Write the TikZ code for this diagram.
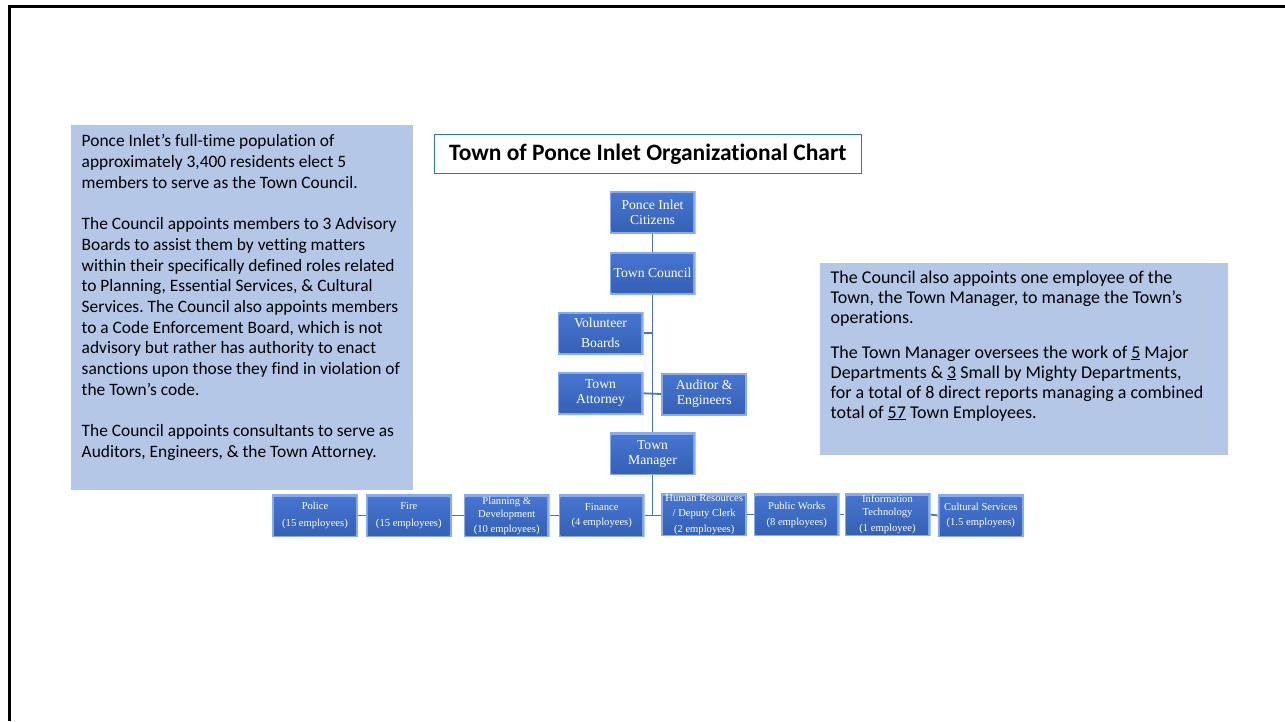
\documentclass[tikz,border=0pt]{standalone}
\usepackage{fontspec}
\setmainfont{Liberation Serif}
\newfontfamily\calib[Ligatures=NoCommon]{Carlito}
\frenchspacing
\definecolor{boxedge}{HTML}{86ACEC}
\definecolor{boxtop}{HTML}{4675D0}
\definecolor{boxbot}{HTML}{3561B6}
\definecolor{linkblue}{HTML}{4A74C2}
\definecolor{noteblue}{HTML}{B4C7E7}
\definecolor{titleline}{HTML}{2E75B6}
\begin{document}
\begin{tikzpicture}[x=1pt,y=-1pt,
  orgbox/.style={minimum width=86pt, minimum height=43pt, inner sep=0pt,
    text=white, align=center,
    path picture={
      \fill[boxedge] (path picture bounding box.north west) rectangle (path picture bounding box.south east);
      \shade[top color=boxtop, bottom color=boxbot]
        ([shift={(2pt,-3pt)}]path picture bounding box.north west) rectangle
        ([shift={(-2.5pt,2pt)}]path picture bounding box.south east);
    }},
  topbox/.style={orgbox, font=\fontsize{13.7}{15}\selectfont},
  deptbox/.style={orgbox, font=\fontsize{10.6}{13}\selectfont},
  link/.style={draw=linkblue, line width=1.8pt},
  notebox/.style={fill=noteblue, inner sep=0pt},
  notetext/.style={anchor=north west, inner sep=0pt, align=left, text=black}
]
\useasboundingbox (0,0) rectangle (1285,721);
\fill[white] (0,0) rectangle (1285,721);

% page frame
\draw[line width=2.5pt] (1285,6.3) -- (9.5,6.3) -- (9.5,721);

% explanatory notes
\node[notebox, minimum width=342.6pt, minimum height=365pt] (leftnote) at (242,307.5) {};
\node[notetext, font=\calib\fontsize{17.4}{20.7}\selectfont] (lefttext) at (81.5,134.5) {%
Ponce Inlet’s full-time population of\\
approximately 3,400 residents elect 5\\
members to serve as the Town Council.\\[20.7pt]
The Council appoints members to 3 Advisory\\
Boards to assist them by vetting matters\\
within their specifically defined roles related\\
to Planning, Essential Services, \& Cultural\\
Services. The Council also appoints members\\
to a Code Enforcement Board, which is not\\
advisory but rather has authority to enact\\
sanctions upon those they find in violation of\\
the Town’s code.\\[20.7pt]
The Council appoints consultants to serve as\\
Auditors, Engineers, \& the Town Attorney.};

\node[notebox, minimum width=408.3pt, minimum height=191.7pt] (rightnote) at (1024.2,359.2) {};
\node[notetext, font=\calib\fontsize{18}{20}\selectfont] (righttext) at (830.5,270.3) {%
The Council also appoints one employee of the\\
Town, the Town Manager, to manage the Town’s\\
operations.\\[15pt]
The Town Manager oversees the work of \underline{5} Major\\
Departments \& \underline{3} Small by Mighty Departments,\\
for a total of 8 direct reports managing a combined\\
total of \underline{57} Town Employees.};

% title
\node[draw=titleline, line width=1pt, minimum width=427.5pt, minimum height=39pt,
      inner sep=0pt, font=\calib\bfseries\fontsize{23.5}{26}\selectfont] (title)
  at (647.8,153.8) {Town of Ponce Inlet Organizational Chart};

% upper chain of command
\node[topbox] (citizens) at (652.5,212.3) {Ponce Inlet\\Citizens};
\node[topbox] (council) at (652.5,273.3) {Town Council};
\node[topbox] (boards) at (600.5,333.3) {Volunteer\\[5pt]Boards};
\node[topbox] (attorney) at (600.5,393.3) {Town\\Attorney};
\node[topbox] (auditor) at (704.2,394) {Auditor \&\\Engineers};
\node[topbox] (manager) at (652.5,453.5) {Town\\Manager};

% departments
\node[deptbox] (police) at (315,515.5) {Police\\[3.5pt](15 employees)};
\node[deptbox] (fire) at (408.8,515.5) {Fire\\[3.5pt](15 employees)};
\node[deptbox] (planning) at (506.7,515.5) {Planning \&\\Development\\[2pt](10 employees)};
\node[deptbox] (finance) at (601.7,515.5) {Finance\\[2.6pt](4 employees)};
\node[deptbox] (hr) at (704.2,514.5) {Human Resources\\[2.7pt]/ Deputy Clerk\\[2.7pt](2 employees)};
\node[deptbox] (works) at (796.7,514.5) {Public Works\\[3pt](8 employees)};
\node[deptbox] (it) at (887.5,514.5) {Information\\Technology\\[3pt](1 employee)};
\node[deptbox] (culture) at (980.8,515.5) {Cultural Services\\[2pt](1.5 employees)};

% connectors
\draw[link] (citizens) -- (council);
\draw[link] (council) -- (manager);
\draw[link] (boards.east) -- (boards.east -| council.south);
\draw[link] (attorney.east) -- (auditor.west);
\draw[link] (manager.south) -- (manager.south |- finance.east);
\draw[link] (police.east) -- (fire.west);
\draw[link] (fire.east) -- (planning.west);
\draw[link] (planning.east) -- (finance.west);
\draw[link] (finance.east) -- (hr.west |- finance.east);
\draw[link] (hr.east) -- (works.west);
\draw[link] (works.east) -- (it.west);
\draw[link] (it.east) -- (culture.west);
\end{tikzpicture}
\end{document}
